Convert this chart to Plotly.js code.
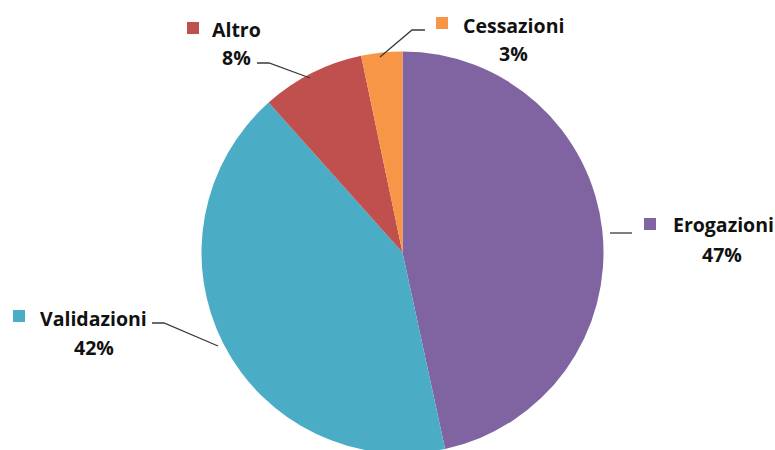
<!DOCTYPE html>
<html>
<head>
<meta charset="utf-8">
<script src="https://cdn.plot.ly/plotly-3.0.1.min.js"></script>
<style>
html,body{margin:0;padding:0;overflow:hidden;background:#fff;}
#chart{width:775px;height:460px;}
</style>
</head>
<body>
<div id="chart"></div>
<script>
// Data
const labels = ['Erogazioni', 'Validazioni', 'Altro', 'Cessazioni'];
const values = [46.6, 41.8, 8.3, 3.3];
const colors = ['#8064A2', '#4BACC6', '#C0504D', '#F79646'];

const W = 775, H = 460;
const px = x => x / W;
const py = y => 1 - y / H;

const total = values.reduce((a, b) => a + b, 0);
const pct = values.map(v => Math.round(v / total * 100) + '%');

// label layout (pixel positions of label centres)
const labelPos = {
  'Erogazioni': {name: [723, 225], pct: [722, 254], sq: [644, 218],
                 line: [[610, 233], [632, 233]]},
  'Validazioni': {name: [93, 318], pct: [94, 347], sq: [13, 310],
                  line: [[152, 323], [164, 323], [218, 346]]},
  'Altro': {name: [237, 30], pct: [237, 58], sq: [187, 22],
            line: [[257, 63], [269, 63], [310, 78]]},
  'Cessazioni': {name: [513, 25], pct: [513, 53], sq: [436, 17],
                 line: [[425, 30], [412, 30], [380, 57]]}
};

const font = {family: '"Open Sans", sans-serif', size: 19.5, color: '#111111'};
const annotations = [];
const shapes = [];
labels.forEach((lab, i) => {
  const p = labelPos[lab];
  annotations.push({xref: 'paper', yref: 'paper', x: px(p.name[0]), y: py(p.name[1]),
    text: '<b>' + lab + '</b>', showarrow: false, xanchor: 'center', yanchor: 'middle', font: font});
  annotations.push({xref: 'paper', yref: 'paper', x: px(p.pct[0]), y: py(p.pct[1]),
    text: '<b>' + pct[i] + '</b>', showarrow: false, xanchor: 'center', yanchor: 'middle', font: font});
  shapes.push({type: 'rect', xref: 'paper', yref: 'paper',
    x0: px(p.sq[0]), x1: px(p.sq[0] + 12), y0: py(p.sq[1]), y1: py(p.sq[1] + 12),
    fillcolor: colors[i], line: {width: 0}});
  const path = p.line.map((pt, k) => (k ? 'L' : 'M') + px(pt[0]) + ',' + py(pt[1])).join(' ');
  shapes.push({type: 'path', xref: 'paper', yref: 'paper', path: path,
    line: {color: '#3a3a3a', width: 1.3}});
});

// pie geometry: centre (402.5, 252.5) px, radius 201 px
const cx = 402.5, cy = 252.5, r = 201;

const trace = {
  type: 'pie',
  labels: labels,
  values: values,
  sort: false,
  direction: 'clockwise',
  rotation: 0,
  textinfo: 'none',
  hoverinfo: 'label+percent',
  marker: {colors: colors, line: {width: 0}},
  domain: {x: [px(cx - r), px(cx + r)], y: [py(cy + r), py(cy - r)]},
  showlegend: false
};

const layout = {
  width: W, height: H,
  margin: {l: 0, r: 0, t: 0, b: 0},
  paper_bgcolor: '#ffffff',
  showlegend: false,
  annotations: annotations,
  shapes: shapes
};

Plotly.newPlot('chart', [trace], layout, {staticPlot: true, displayModeBar: false});
</script>
</body>
</html>
